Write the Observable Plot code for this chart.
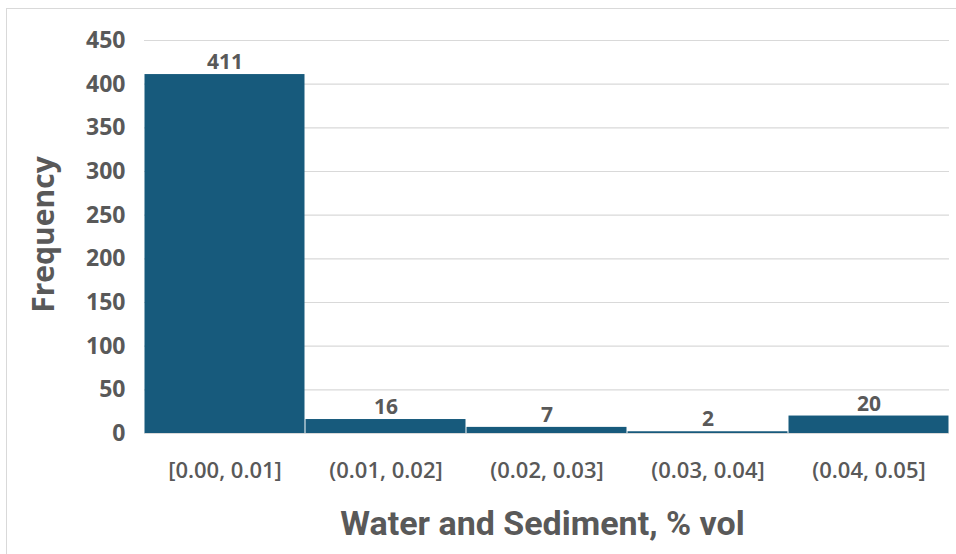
<!DOCTYPE html>
<html>
<head>
<meta charset="utf-8">
<script src="https://cdn.jsdelivr.net/npm/d3@7"></script>
<script src="https://cdn.jsdelivr.net/npm/@observablehq/plot@0.6"></script>
<style>
  html, body { margin: 0; padding: 0; background: #ffffff; }
  #wrap { position: relative; width: 956px; height: 554px; overflow: hidden; }
  #border { position: absolute; left: 6px; top: 8px; width: 960px; height: 560px; border-left: 1.5px solid #d9d9d9; border-top: 1.5px solid #d9d9d9; box-sizing: border-box; pointer-events: none; }
  #chart { position: absolute; left: 0; top: 0; }
</style>
</head>
<body>
<div id="wrap"><div id="chart"></div><div id="border"></div></div>
<script>
const bins = ["[0.00, 0.01]", "(0.01, 0.02]", "(0.02, 0.03]", "(0.03, 0.04]", "(0.04, 0.05]"];
const counts = [411, 16, 7, 2, 20];
const yTicks = [0, 50, 100, 150, 200, 250, 300, 350, 400, 450];
const yTitle = "Frequency";
const xTitle = "Water and Sediment, % vol";

const data = bins.map((b, i) => ({bin: b, count: counts[i]}));

const textColor = "#595959";
const barColor = "#175a7c";
const roboto = "'Roboto', 'Noto Sans', sans-serif";
const sans = "'Open Sans', 'Noto Sans', sans-serif";

const chart = Plot.plot({
  width: 956,
  height: 554,
  marginLeft: 144,
  marginRight: 7,
  marginTop: 40,
  marginBottom: 121,
  style: {background: "transparent", color: textColor},
  x: {domain: bins, padding: 0, label: null},
  y: {domain: [0, 450], ticks: yTicks, label: null},
  marks: [
    Plot.gridY(yTicks, {stroke: "#d9d9d9", strokeOpacity: 1, strokeWidth: 1.2}),
    Plot.barY(data, {x: "bin", y: "count", fill: barColor, insetLeft: 0.5, insetRight: 0.5}),
    Plot.text(data, {x: "bin", y: "count", text: d => String(d.count), dy: -12, fill: textColor, fontSize: 21, fontWeight: "bold", fontFamily: sans}),
    Plot.axisY({ticks: yTicks, tickSize: 0, tickPadding: 19, fontSize: 23, fontWeight: "bold", fontFamily: sans, label: null}),
    Plot.axisX({tickSize: 0, tickPadding: 29, fontSize: 22, fontWeight: 600, fontFamily: sans, label: null}),
    Plot.text([yTitle], {frameAnchor: "left", textAnchor: "middle", lineAnchor: "middle", rotate: -90, dx: -100.6, dy: -2.5, fill: textColor, fontSize: 30, fontWeight: "bold", fontFamily: sans}),
    Plot.text([xTitle], {frameAnchor: "bottom", textAnchor: "middle", lineAnchor: "middle", dy: 91, dx: -4.5, fill: textColor, fontSize: 34, fontWeight: "bold", fontFamily: roboto})
  ]
});
chart.querySelectorAll("text").forEach(t => t.style.fill = textColor);
document.getElementById("chart").appendChild(chart);
</script>
</body>
</html>
